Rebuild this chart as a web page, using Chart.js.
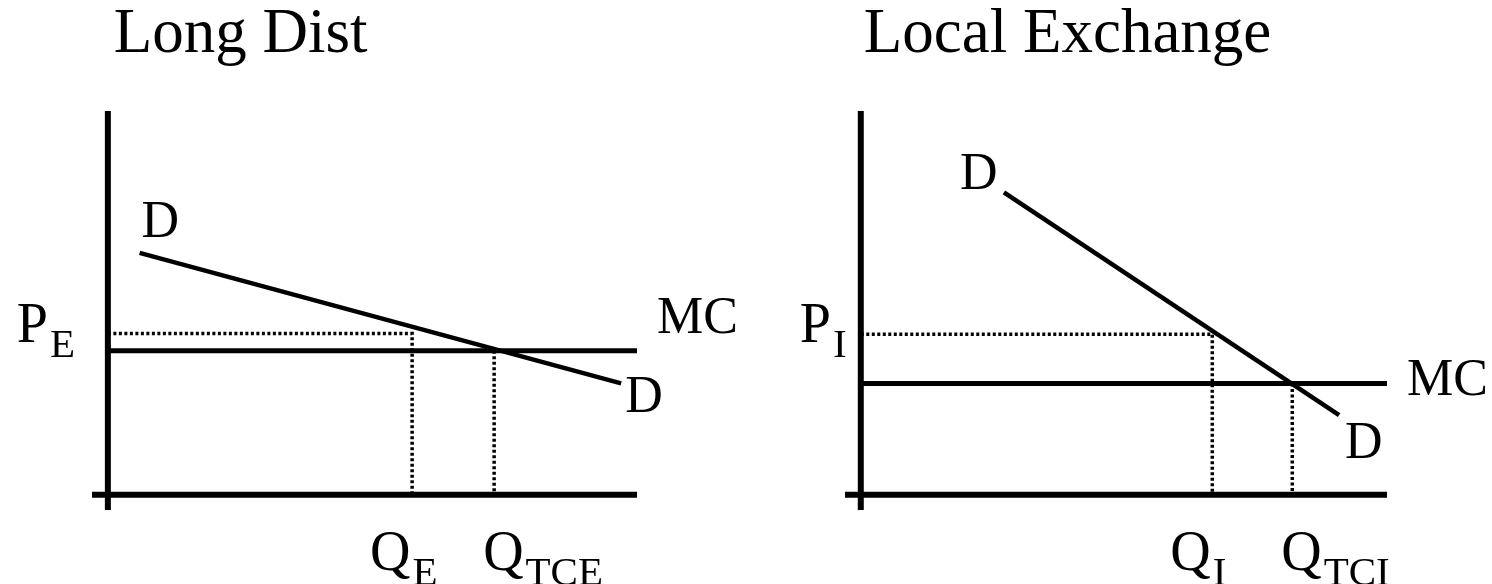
<!DOCTYPE html>
<html>
<head>
<meta charset="utf-8">
<script src="https://cdn.jsdelivr.net/npm/chart.js@4.4.1/dist/chart.umd.min.js"></script>
<style>
  html, body { margin: 0; padding: 0; background: #fff; }
  #wrap { position: relative; width: 1492px; height: 584px; }
  canvas { position: absolute; top: 0; }
</style>
</head>
<body>
<div id="wrap">
  <canvas id="longDist" width="746" height="584" style="left:0"></canvas>
  <canvas id="localEx" width="746" height="584" style="left:746px"></canvas>
</div>
<script>
// panel titles
const titles = ["Long Dist", "Local Exchange"];

// axis extents (Q horizontally, P vertically), a little past the origin
const qAxis = [-0.3, 10];
const pAxis = [-0.4, 10];

// Long distance market
const ldDemandQ = [0.6, 9.7];
const ldDemandP = [6.3, 2.9];
const ldMC = 3.75;
const ldPE = 4.2;
const ldQE = 5.75;
const ldQTCE = 7.3;

// Local exchange market
const leDemandQ = [2.72, 9.09];
const leDemandP = [7.88, 2.07];
const leMC = 2.9;
const lePI = 4.18;
const leQI = 6.68;
const leQTCI = 8.2;

const SERIF = '"Liberation Serif", "Times New Roman", serif';

// draws the titles and the D / MC / P / Q labels next to their lines
const panelText = {
  id: 'panelText',
  afterDatasetsDraw(chart, args, opts) {
    const { ctx, scales: { x, y } } = chart;
    ctx.save();
    ctx.fillStyle = '#000';
    ctx.textBaseline = 'alphabetic';
    ctx.font = '63px ' + SERIF;
    ctx.fillText(opts.title, x.getPixelForValue(0) + opts.titleDx, 52);
    opts.labels.forEach(l => {
      const px = x.getPixelForValue(l.at[0]) + l.dx;
      const py = y.getPixelForValue(l.at[1]) + l.dy;
      ctx.font = (l.sub ? '56px ' : '52px ') + SERIF;
      ctx.fillText(l.text, px, py);
      if (l.sub) {
        const w = ctx.measureText(l.text).width;
        ctx.font = '41px ' + SERIF;
        ctx.fillText(l.sub, px + w + 2, py + 15);
      }
    });
    ctx.restore();
  }
};

function line(points, width, dash) {
  return {
    data: points,
    showLine: true,
    borderColor: '#000',
    borderWidth: width,
    borderDash: dash || [],
    pointRadius: 0,
    clip: false,
    tension: 0
  };
}

function buildPanel(id, pad, title, titleDx, demandQ, demandP, mc, price, qLow, qHigh, names) {
  const datasets = [
    // axes
    line([{ x: qAxis[0], y: 0 }, { x: qAxis[1], y: 0 }], 6),
    line([{ x: 0, y: pAxis[0] }, { x: 0, y: pAxis[1] }], 6),
    // marginal cost
    line([{ x: 0, y: mc }, { x: qAxis[1], y: mc }], 5),
    // demand
    line(demandQ.map((q, i) => ({ x: q, y: demandP[i] })), 4.5),
    // dotted guides
    line([{ x: 0, y: price }, { x: qLow, y: price }, { x: qLow, y: 0 }], 3.5, [3, 2.5]),
    line([{ x: qHigh, y: mc }, { x: qHigh, y: 0 }], 3.5, [3, 2.5])
  ];

  return new Chart(document.getElementById(id), {
    type: 'scatter',
    data: { datasets },
    plugins: [panelText],
    options: {
      responsive: false,
      animation: false,
      layout: { padding: pad },
      scales: {
        x: { type: 'linear', min: qAxis[0], max: qAxis[1], display: false },
        y: { type: 'linear', min: pAxis[0], max: pAxis[1], display: false }
      },
      plugins: {
        legend: { display: false },
        tooltip: { enabled: false },
        panelText: {
          title,
          titleDx,
          labels: [
            { text: 'D', at: [demandQ[0], demandP[0]], dx: names.dTop[0], dy: names.dTop[1] },
            { text: 'D', at: [demandQ[1], demandP[1]], dx: names.dEnd[0], dy: names.dEnd[1] },
            { text: 'MC', at: [qAxis[1], mc], dx: 20, dy: names.mcDy },
            { text: 'P', sub: names.p, at: [0, price], dx: names.pDx, dy: 8 },
            { text: 'Q', sub: names.qLow, at: [qLow, 0], dx: -42, dy: 75 },
            { text: 'Q', sub: names.qHigh, at: [qHigh, 0], dx: -11, dy: 75 }
          ]
        }
      }
    }
  });
}

buildPanel('longDist', { left: 92, right: 109, top: 111, bottom: 74 }, titles[0], 6,
  ldDemandQ, ldDemandP, ldMC, ldPE, ldQE, ldQTCE,
  { dTop: [2, -16], dEnd: [4, 29], mcDy: -18, p: 'E', pDx: -91, qLow: 'E', qHigh: 'TCE' });

buildPanel('localEx', { left: 99, right: 105, top: 111, bottom: 74 }, titles[1], 3,
  leDemandQ, leDemandP, leMC, lePI, leQI, leQTCI,
  { dTop: [-44, -3], dEnd: [6, 43], mcDy: 12, p: 'I', pDx: -61, qLow: 'I', qHigh: 'TCI' });
</script>
</body>
</html>
